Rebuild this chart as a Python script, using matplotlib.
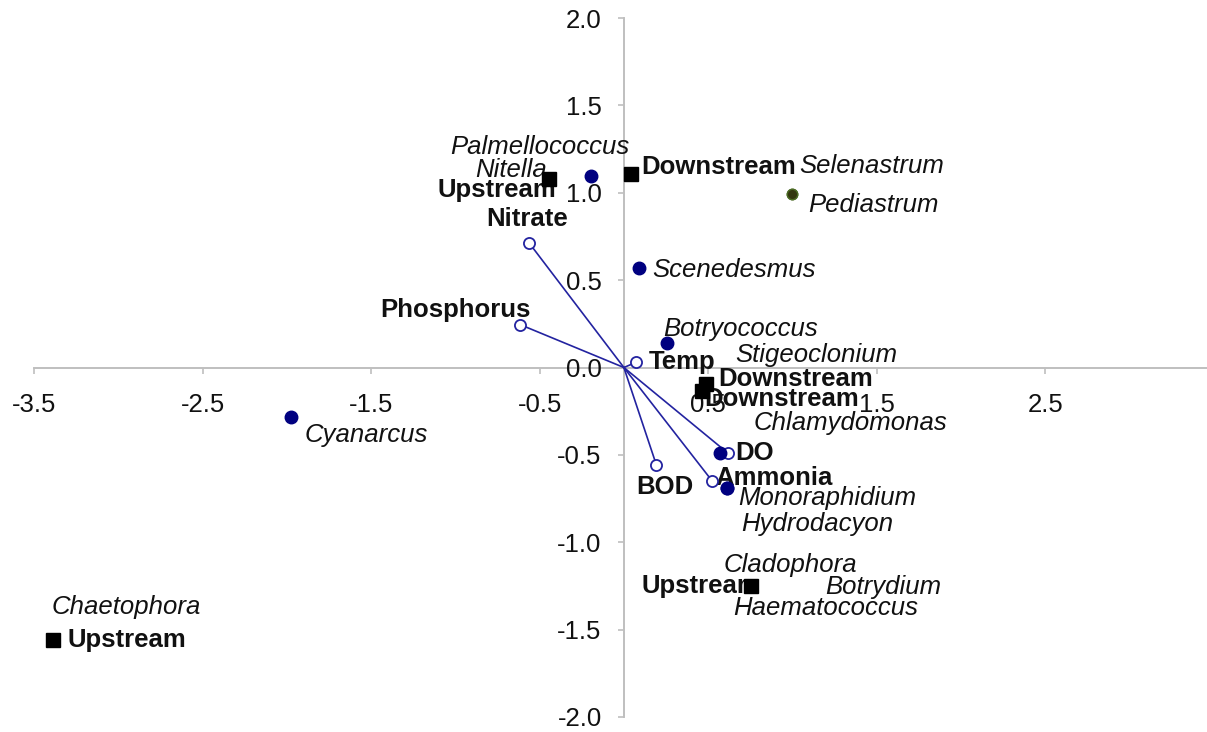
import matplotlib
matplotlib.use("Agg")
import matplotlib.pyplot as plt

plt.rcParams['font.family'] = ['Liberation Sans', 'DejaVu Sans']

# ---- species scores (axis 1, axis 2) ----
species = ["Palmellococcus", "Nitella", "Selenastrum", "Pediastrum", "Scenedesmus",
           "Botryococcus", "Stigeoclonium", "Chlamydomonas", "Monoraphidium",
           "Hydrodacyon", "Cladophora", "Botrydium", "Haematococcus",
           "Cyanarcus", "Chaetophora"]
species_x = [-0.193, -0.442, 0.997, 0.997, 0.089, 0.255, 0.487, 0.570, 0.611,
             0.611, 0.754, 0.754, 0.754, -1.976, -3.389]
species_y = [1.093, 1.079, 0.990, 0.990, 0.572, 0.143, -0.092, -0.492, -0.692,
             -0.692, -1.253, -1.253, -1.253, -0.286, -1.557]

# ---- sampling sites ----
sites = ["Upstream", "Downstream", "Downstream", "Downstream", "Upstream", "Upstream"]
site_x = [-0.442, 0.045, 0.487, 0.463, 0.754, -3.389]
site_y = [1.079, 1.107, -0.092, -0.137, -1.253, -1.557]

# ---- environmental variable vectors ----
env = ["Nitrate", "Phosphorus", "Temp", "BOD", "Ammonia", "DO"]
env_x = [-0.564, -0.617, 0.071, 0.193, 0.522, 0.620]
env_y = [0.715, 0.246, 0.029, -0.558, -0.647, -0.492]

x_ticks = [-3.5, -2.5, -1.5, -0.5, 0.5, 1.5, 2.5]
y_ticks = [-2.0, -1.5, -1.0, -0.5, 0.0, 0.5, 1.0, 1.5, 2.0]

# label placement (offset in pixels, horizontal alignment)
species_lbl = [(-52, 29, "center"), (-2, 9, "right"), (7, 28, "left"), (16, -11, "left"),
               (13, -2, "left"), (-4, 14, "left"), (29, 29, "left"), (34, 30, "left"),
               (11, -10, "left"), (14, -36, "left"), (-27, 21, "left"), (74, -1, "left"),
               (-18, -22, "left"), (14, -18, "left"), (-1, 33, "left")]
site_lbl = [(7, -11, "right"), (10, 7, "left"), (12, 5, "left"), (2, -8, "left"),
            (9, 0, "right"), (15, 0, "left")]
env_lbl = [(-2, 24, "center"), (11, 15, "right"), (13, 0, "left"), (8, -22, "center"),
           (4, 3, "left"), (7, 0, "left")]

FS = 18.5
NAVY = "#000080"
LINE = "#2323a0"
AXIS = "#bfbfbf"

fig = plt.figure(figsize=(12.07, 7.32), dpi=100)
ax = fig.add_axes([34 / 1207, 15 / 732, (1207 - 34) / 1207, (717 - 18) / 732])
ax.set_xlim(-3.5, (1207 - 624) / 168.5)
ax.set_ylim(-2.0, 2.0)

for s in ("top", "right"):
    ax.spines[s].set_visible(False)
ax.spines["left"].set_position(("data", 0))
ax.spines["bottom"].set_position(("data", 0))
for s in ("left", "bottom"):
    ax.spines[s].set_color(AXIS)
    ax.spines[s].set_linewidth(1.4)
    ax.spines[s].set_zorder(1)

ax.set_xticks(x_ticks)
ax.set_xticklabels([f"{v:.1f}" for v in x_ticks])
ax.set_yticks(y_ticks)
ax.set_yticklabels([f"{v:.1f}" for v in y_ticks])
ax.tick_params(axis="x", direction="out", length=4.5, width=1.2, color=AXIS,
               labelsize=FS, pad=13.5, labelcolor="#111111")
ax.tick_params(axis="y", direction="out", length=4, width=1.2, color=AXIS,
               labelsize=FS, pad=12, labelcolor="#111111")

# environmental vectors
for ex, ey in zip(env_x, env_y):
    ax.plot([0, ex], [0, ey], color=LINE, lw=1.2, zorder=2)
ax.plot(env_x, env_y, ls="none", marker="o", ms=8, mfc="white", mec=LINE,
        mew=1.3, zorder=3.2)

# species points
olive = {"Selenastrum", "Pediastrum"}
for name, sx, sy in zip(species, species_x, species_y):
    if name in olive:
        ax.plot(sx, sy, marker="o", ms=7.5, mfc="#33360f", mec="#4b6a25",
                mew=1.0, ls="none", zorder=3.5)
    else:
        ax.plot(sx, sy, marker="o", ms=9, mfc=NAVY, mec=NAVY, ls="none", zorder=3.5)

# site squares
ax.plot(site_x, site_y, ls="none", marker="s", ms=9.5, mfc="black", mec="black",
        zorder=4)

def label(text, x, y, off, **kw):
    dx, dy, ha = off
    ax.annotate(text, (x, y), xytext=(dx, dy), textcoords="offset pixels",
                ha=ha, va="center", fontsize=FS, color="#111111", zorder=3, **kw)

for name, sx, sy, off in zip(species, species_x, species_y, species_lbl):
    label(name, sx, sy, off, style="italic")
for name, sx, sy, off in zip(sites, site_x, site_y, site_lbl):
    label(name, sx, sy, off, weight="bold")
for name, ex, ey, off in zip(env, env_x, env_y, env_lbl):
    label(name, ex, ey, off, weight="bold")

fig.savefig("out.png", dpi=100)
